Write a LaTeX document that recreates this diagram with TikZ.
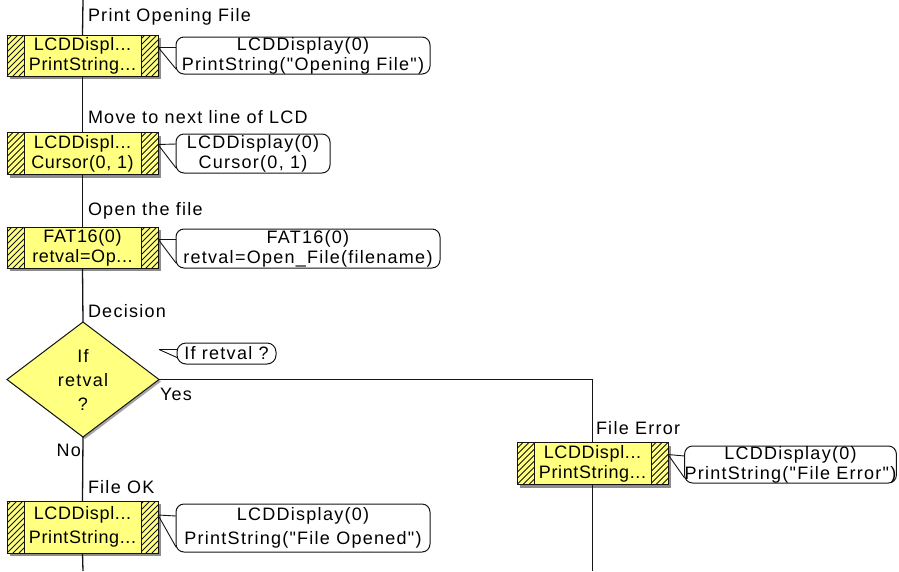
\documentclass[tikz,border=0pt]{standalone}
\usepackage{fontspec}
\newfontfamily\flowfont{Liberation Sans}[LetterSpace=7]
\newfontfamily\blockfont{Liberation Sans}[LetterSpace=3.5]
\usetikzlibrary{calc,shapes.geometric,shadows}

\definecolor{boxfill}{RGB}{255,255,128}
\definecolor{flowline}{RGB}{20,20,20}

\tikzset{
  every node/.style={font=\flowfont\fontsize{18}{20}\selectfont, inner sep=0pt, outer sep=0pt},
  procbox/.style={draw=flowline, line width=1pt, fill=boxfill, rectangle,
    minimum width=151pt, align=center, font=\blockfont\fontsize{18}{20}\selectfont,
    drop shadow={shadow xshift=3pt, shadow yshift=-3pt, fill=black!45, opacity=1}},
  decision/.style={draw=flowline, line width=1pt, fill=boxfill, diamond, align=center,
    minimum width=152pt, minimum height=115pt,
    drop shadow={shadow xshift=2pt, shadow yshift=-2pt, fill=black!35, opacity=1}},
  comment/.style={draw=flowline, line width=1pt, fill=white, rectangle,
    rounded corners=8pt, align=center},
  flow/.style={draw=flowline, line width=1.3pt},
  pointer/.style={draw=flowline, line width=0.9pt},
  hatchline/.style={draw=flowline, line width=0.8pt},
  label/.style={anchor=west}
}

% straight double quote
\newcommand\dq{\symbol{34}}

% hatched side strips of a process box
\newcommand\hatchstrips[1]{%
  \begin{scope}
    \clip (#1.south west) rectangle ($(#1.north west)+(17,0)$);
    \foreach \k in {-60,-54,...,18} \draw[hatchline] ($(#1.south west)+(\k,0)$) -- ++(60,-60);
  \end{scope}
  \begin{scope}
    \clip ($(#1.south east)+(-17,0)$) rectangle (#1.north east);
    \foreach \k in {-78,-72,...,0} \draw[hatchline] ($(#1.south east)+(\k,0)$) -- ++(60,-60);
  \end{scope}
  \draw[hatchline, line width=1pt] ($(#1.north west)+(17,0)$) -- ($(#1.south west)+(17,0)$);
  \draw[hatchline, line width=1pt] ($(#1.north east)+(-17,0)$) -- ($(#1.south east)+(-17,0)$);
  \draw[flowline, line width=1pt] (#1.south west) rectangle (#1.north east);
}

% callout from a process box to its comment
\newcommand\callout[3]{%
  \draw[pointer] ($(#1.north east)+(0,#3)$) -- ($(#2.north west)+(0,#3-2)$);
  \draw[pointer] ($(#1.north east)+(0,#3)$) -- ($(#2.south west)+(0,-5)$);
}

\begin{document}
\begin{tikzpicture}[x=1pt,y=-1pt]
  \useasboundingbox (0,0) rectangle (899,571);
  \fill[white] (0,0) rectangle (899,571);

  \coordinate (top) at (83,0);
  \coordinate (bottomL) at (83,571);
  \coordinate (bottomR) at (592.5,571);

  % process boxes
  \node[procbox, minimum height=41pt] (b1) at (82.5,55.5) {LCDDispl...\\PrintString...};
  \node[procbox, minimum height=42pt] (b2) at (82.5,153.5) {LCDDispl...\\Cursor(0, 1)};
  \node[procbox, minimum height=41pt] (b3) at (82.5,247.5) {FAT16(0)\\retval=Op...};
  \node[procbox, minimum height=52pt, font=\blockfont\fontsize{18}{24}\selectfont] (bok) at (82.5,527) {LCDDispl...\\PrintString...};
  \node[procbox, minimum height=42pt] (bfe) at (592.5,463.5) {LCDDispl...\\PrintString...};
  \hatchstrips{b1}
  \hatchstrips{b2}
  \hatchstrips{b3}
  \hatchstrips{bok}
  \hatchstrips{bfe}

  % decision
  \node[decision, font=\flowfont\fontsize{18}{24}\selectfont] (d) at (83,379.5) {If\\retval\\?};

  % comments
  \node[comment, minimum width=254pt, minimum height=37pt] (c1) at (303,55.5)
    {LCDDisplay(0)\\PrintString(\dq Opening File\dq)};
  \node[comment, minimum width=154pt, minimum height=39pt] (c2) at (253,153.5)
    {LCDDisplay(0)\\Cursor(0, 1)};
  \node[comment, minimum width=264pt, minimum height=39pt] (c3) at (308,248.5)
    {FAT16(0)\\retval=Open\_File(filename)};
  \node[comment, minimum width=99pt, minimum height=21pt, rounded corners=9pt] (cif) at (226.5,353.5)
    {If retval ?};
  \node[comment, minimum width=211pt, minimum height=37pt] (cfe) at (790.5,464.5)
    {LCDDisplay(0)\\PrintString(\dq File Error\dq)};
  \node[comment, minimum width=254pt, minimum height=48pt, font=\flowfont\fontsize{18}{24}\selectfont] (cok) at (303,528)
    {LCDDisplay(0)\\PrintString(\dq File Opened\dq)};

  \callout{b1}{c1}{12}
  \callout{b2}{c2}{12}
  \callout{b3}{c3}{12}
  \callout{bok}{cok}{14}
  \callout{bfe}{cfe}{12}
  \coordinate (ciftip) at ($(cif.west)+(-18,-4)$);
  \draw[pointer] (ciftip) -- ($(cif.west)+(0,-4)$);
  \draw[pointer] (ciftip) -- ($(cif.west)+(0,4)$);

  % flow lines
  \draw[flow] (top) -- (b1.north);
  \draw[flow] (b1.south) -- (b2.north);
  \draw[flow] (b2.south) -- (b3.north);
  \draw[flow] (b3.south) -- (d.north);
  \draw[flow] (d.south) -- (bok.north);
  \draw[flow] (bok.south) -- (bottomL);
  \draw[flow] (d.east) -| (bfe.north);
  \draw[flow] (bfe.south) -- (bottomR);

  % flow labels
  \node[label] (l1) at (88,17) {Print Opening File};
  \node[label] (l2) at (88,117) {Move to next line of LCD};
  \node[label] (l3) at (88,211) {Open the file};
  \node[label] (l4) at (88,311) {Decision};
  \node[label] (lyes) at (160,394) {Yes};
  \node[anchor=east] (lno) at (81,450) {No};
  \node[label] (lok) at (88,487) {File OK};
  \node[label] (lfe) at (596,428) {File Error};
\end{tikzpicture}
\end{document}
